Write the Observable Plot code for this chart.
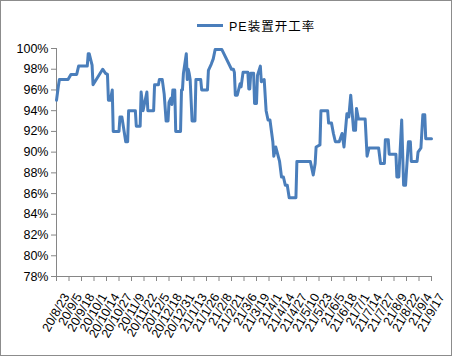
<!DOCTYPE html>
<html>
<head>
<meta charset="utf-8">
<script src="https://cdn.jsdelivr.net/npm/d3@7"></script>
<script src="https://cdn.jsdelivr.net/npm/@observablehq/plot@0.6"></script>
<style>
  body { margin: 0; background: #fff; }
  #wrap { position: relative; width: 452px; height: 356px; outline: 1px solid #8c8c8c; outline-offset: -1px; overflow: hidden; font-family: "Liberation Sans", "Noto Sans CJK SC", sans-serif; }
  #legend { position: absolute; top: 16px; left: 197px; height: 18px; display: flex; align-items: center; font-size: 12.5px; font-family: "Liberation Sans", "Noto Sans CJK SC", sans-serif; letter-spacing: 1px; color: #000; white-space: nowrap; }
  #legend .sw { display: inline-block; width: 26px; height: 3px; background: #4a7ebb; margin-right: 6px; }
  #chart { position: absolute; top: 40px; left: 0; }
  #chart svg g[aria-label="x-axis tick label"] text { letter-spacing: 1.5px; }
</style>
</head>
<body>
<div id="wrap">
  <div id="legend"><span class="sw"></span><span id="legendText"></span></div>
  <div id="chart"></div>
</div>
<script>
const seriesName = "PE装置开工率";

const dates = [
  "2020-08-23","2020-08-25","2020-08-26","2020-09-04","2020-09-07","2020-09-13","2020-09-15","2020-09-24","2020-09-25","2020-09-26",
  "2020-09-29","2020-09-30","2020-10-10","2020-10-13","2020-10-15","2020-10-16","2020-10-18","2020-10-20","2020-10-21","2020-10-27",
  "2020-10-28","2020-10-30","2020-11-03","2020-11-05","2020-11-06","2020-11-13","2020-11-14","2020-11-18","2020-11-19","2020-11-21",
  "2020-11-25","2020-11-26","2020-12-02","2020-12-03","2020-12-07","2020-12-08","2020-12-11","2020-12-13","2020-12-15","2020-12-17",
  "2020-12-18","2020-12-20","2020-12-21","2020-12-22","2020-12-24","2020-12-25","2020-12-30","2020-12-31","2021-01-01","2021-01-02",
  "2021-01-05","2021-01-06","2021-01-07","2021-01-08","2021-01-09","2021-01-11","2021-01-14","2021-01-15","2021-01-20","2021-01-21",
  "2021-01-27","2021-01-28","2021-01-31","2021-02-02","2021-02-04","2021-02-11","2021-02-21","2021-02-23","2021-02-24","2021-02-25",
  "2021-02-27","2021-03-02","2021-03-03","2021-03-05","2021-03-10","2021-03-11","2021-03-12","2021-03-13","2021-03-16","2021-03-17",
  "2021-03-19","2021-03-20","2021-03-23","2021-03-24","2021-03-27","2021-03-29","2021-03-31","2021-04-02","2021-04-05","2021-04-06",
  "2021-04-08","2021-04-12","2021-04-14","2021-04-16","2021-04-18","2021-04-20","2021-04-22","2021-04-29","2021-04-30","2021-05-14",
  "2021-05-17","2021-05-19","2021-05-20","2021-05-24","2021-05-25","2021-06-01","2021-06-02","2021-06-05","2021-06-07","2021-06-09",
  "2021-06-13","2021-06-16","2021-06-18","2021-06-21","2021-06-23","2021-06-25","2021-06-28","2021-06-30","2021-07-01","2021-07-03",
  "2021-07-10","2021-07-12","2021-07-14","2021-07-24","2021-07-26","2021-07-30","2021-07-31","2021-08-03","2021-08-04","2021-08-11",
  "2021-08-12","2021-08-14","2021-08-17","2021-08-19","2021-08-21","2021-08-24","2021-08-26","2021-08-27","2021-09-02","2021-09-03",
  "2021-09-06","2021-09-08","2021-09-10","2021-09-11","2021-09-17"
];

const values = [
  95.0,96.4,97.0,97.0,97.5,97.5,98.3,98.3,99.5,99.5,
  98.4,96.5,98.0,97.6,97.5,95.0,95.0,96.0,92.0,92.0,
  93.4,93.4,91.0,91.0,94.0,94.0,92.5,92.5,95.8,94.0,
  95.8,94.0,94.0,96.5,96.5,97.0,97.0,95.6,93.0,93.0,
  94.8,95.2,94.6,96.0,96.0,92.0,92.0,96.0,96.0,97.6,
  99.5,97.0,98.0,97.6,97.0,93.0,93.0,97.0,97.0,96.0,
  96.0,97.9,98.5,99.0,99.9,99.9,98.0,98.0,97.7,95.5,
  95.5,96.6,96.3,97.7,97.7,96.1,96.1,97.6,97.6,94.7,
  94.7,97.4,98.3,96.8,97.0,94.0,93.1,93.1,91.0,89.6,
  90.5,89.1,87.6,87.6,86.8,86.8,85.6,85.6,89.1,89.1,
  87.8,88.9,90.5,90.7,94.0,94.0,92.8,92.8,91.8,91.0,
  91.0,91.8,90.5,93.7,93.4,95.5,92.1,92.1,94.2,93.2,
  93.2,89.6,90.4,90.4,88.9,88.9,91.2,91.2,89.8,89.8,
  87.6,87.6,93.1,86.8,86.8,91.0,91.0,89.1,89.1,90.0,
  90.4,93.6,93.6,91.3,91.3
];

const tickLabels = [
  "20/8/23","20/9/5","20/9/18","20/10/1","20/10/14","20/10/27","20/11/9","20/11/22","20/12/5","20/12/18",
  "20/12/31","21/1/13","21/1/26","21/2/8","21/2/21","21/3/6","21/3/19","21/4/1","21/4/14","21/4/27",
  "21/5/10","21/5/23","21/6/5","21/6/18","21/7/1","21/7/14","21/7/27","21/8/9","21/8/22","21/9/4","21/9/17"
];

const yTicks = [78,80,82,84,86,88,90,92,94,96,98,100];

document.getElementById("legendText").textContent = seriesName;

const parse = d3.utcParse("%Y-%m-%d");
const data = dates.map((d, i) => ({date: parse(d), value: values[i]}));
const tickDates = tickLabels.map(s => {
  const [y, m, d] = s.split("/").map(Number);
  return new Date(Date.UTC(2000 + y, m - 1, d));
});
const labelMap = new Map(tickDates.map((d, i) => [+d, tickLabels[i]]));

const axisColor = "#868686";

const chart = Plot.plot({
  width: 452,
  height: 316,
  marginLeft: 56,
  marginRight: 21,
  marginTop: 8,
  marginBottom: 80,
  style: {fontFamily: "'Liberation Sans', 'Noto Sans CJK SC', sans-serif", fontSize: "12.5px", color: "#000", background: "transparent", overflow: "visible"},
  x: {type: "utc", domain: [tickDates[0], tickDates[tickDates.length - 1]]},
  y: {domain: [78, 100]},
  marks: [
    Plot.axisY({ticks: yTicks, tickFormat: d => d + "%", tickSize: 5, tickPadding: 3, stroke: axisColor, fill: "#000", label: null}),
    Plot.axisX({ticks: tickDates, tickFormat: d => labelMap.get(+d), tickSize: 5, stroke: axisColor, text: null, label: null}),
    Plot.axisX({ticks: tickDates, tickFormat: d => labelMap.get(+d), tickRotate: -60, tickSize: 0, tickPadding: 7, dx: 10, dy: 11, fill: "#000", ariaLabel: "x-axis tick label", label: null}),
    Plot.ruleY([78], {stroke: axisColor}),
    Plot.ruleX([tickDates[0]], {stroke: axisColor}),
    Plot.line(data, {x: "date", y: "value", stroke: "#4a7ebb", strokeWidth: 3, strokeLinejoin: "round"})
  ]
});
document.getElementById("chart").appendChild(chart);
</script>
</body>
</html>
